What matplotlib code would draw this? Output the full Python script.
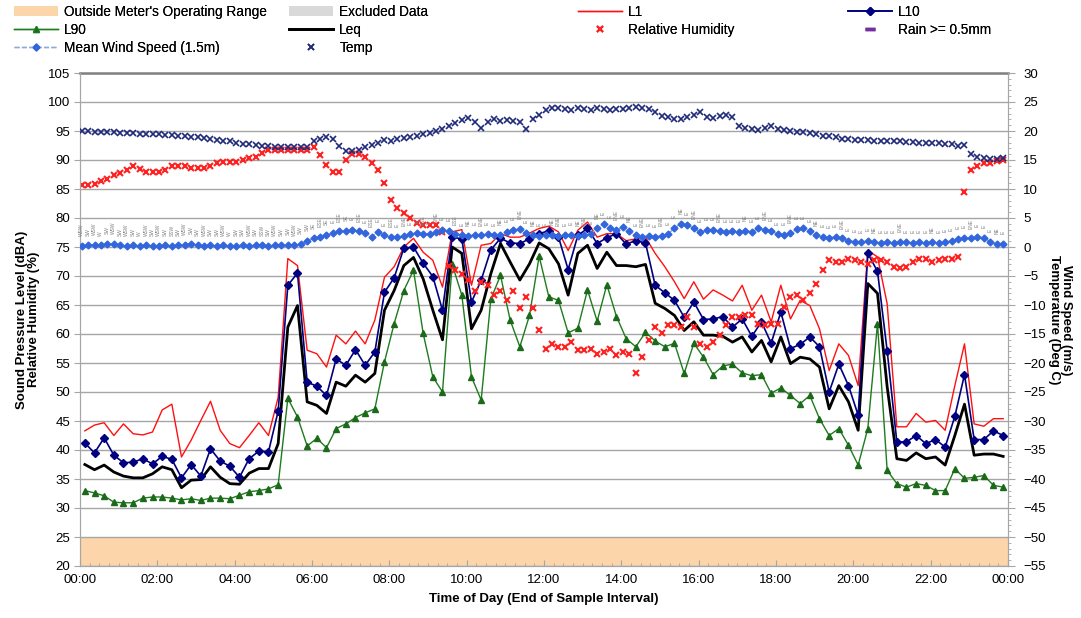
import numpy as np
import matplotlib
matplotlib.use("Agg")
import matplotlib.pyplot as plt
from matplotlib.lines import Line2D
from matplotlib.patches import Patch
from matplotlib.ticker import MultipleLocator, FixedLocator, FixedFormatter

plt.rcParams['font.family'] = ['Liberation Sans', 'DejaVu Sans']

# ---------------- data ----------------
# 15-minute noise statistics (dBA), 96 intervals
L1 = [43.3, 44.3, 44.7, 42.5, 44.5, 42.8, 42.6, 43.1, 46.9, 47.9, 38.8, 41.7, 45.1, 48.4, 43.4, 41.1,
      40.4, 42.5, 44.7, 42.5, 49.1, 73.0, 71.8, 57.2, 56.6, 54.3, 59.8, 58.3, 60.5, 58.3, 62.4, 69.8,
      71.6, 75.0, 76.5, 74.1, 72.7, 68.1, 77.6, 78.0, 68.4, 75.3, 75.6, 77.3, 76.7, 76.7, 77.4, 78.2,
      78.6, 77.6, 74.4, 77.9, 79.3, 76.7, 77.3, 77.3, 76.1, 76.4, 76.7, 73.9, 71.6, 69.0, 66.1, 69.0,
      66.0, 67.6, 66.7, 65.7, 68.4, 64.1, 66.7, 62.1, 68.4, 62.6, 65.8, 64.9, 60.9, 53.7, 58.3, 56.3,
      51.1, 74.4, 73.3, 65.2, 44.0, 44.0, 46.3, 44.8, 45.1, 43.4, 51.1, 58.3, 44.5, 44.1, 45.4, 45.4]
L10 = [41.2, 39.5, 42.1, 39.1, 37.8, 37.9, 38.5, 37.6, 38.9, 38.4, 35.2, 37.5, 35.5, 40.2, 38.1, 37.2,
       35.3, 38.5, 39.8, 39.7, 46.7, 68.4, 70.5, 51.7, 51.0, 49.4, 55.7, 54.6, 57.3, 54.6, 56.9, 67.2,
       69.7, 74.8, 75.0, 72.2, 69.9, 64.1, 76.7, 76.4, 65.5, 69.3, 74.5, 76.5, 75.7, 75.6, 76.4, 77.3,
       77.8, 76.7, 71.1, 77.0, 78.2, 75.6, 76.6, 77.3, 75.5, 76.1, 75.7, 68.4, 67.1, 65.8, 62.9, 65.5,
       62.5, 62.6, 63.0, 61.2, 62.6, 59.6, 62.1, 58.4, 63.8, 57.5, 58.2, 59.5, 57.8, 50.0, 54.8, 51.1,
       46.0, 73.9, 70.8, 57.1, 41.4, 41.4, 42.5, 41.1, 41.8, 40.5, 45.8, 53.0, 41.8, 41.8, 43.3, 42.5]
LEQ = [37.5, 36.6, 37.4, 36.2, 35.5, 35.2, 35.2, 35.9, 37.1, 36.6, 33.5, 34.8, 34.9, 37.1, 35.3, 34.2,
       34.1, 36.0, 36.8, 36.8, 41.1, 61.2, 64.9, 48.3, 47.7, 46.3, 51.7, 51.0, 52.9, 51.7, 53.2, 64.1,
       67.5, 71.8, 73.2, 69.5, 64.1, 59.0, 75.0, 73.9, 60.9, 64.1, 70.4, 75.6, 72.4, 69.3, 72.1, 75.7,
       74.7, 72.1, 66.7, 73.9, 75.3, 71.3, 74.1, 71.8, 71.8, 71.6, 72.0, 65.3, 64.4, 63.2, 60.6, 62.1,
       59.8, 59.8, 59.6, 58.6, 59.5, 56.9, 58.9, 55.2, 59.5, 54.9, 56.0, 55.7, 54.3, 47.1, 51.1, 48.3,
       43.4, 68.7, 67.0, 50.9, 38.5, 38.2, 39.5, 38.5, 38.8, 37.4, 42.5, 47.9, 39.1, 39.3, 39.3, 38.9]
L90 = [33.0, 32.6, 32.1, 31.0, 30.9, 30.9, 31.7, 31.9, 31.9, 31.7, 31.4, 31.6, 31.3, 31.7, 31.7, 31.6,
       32.2, 32.8, 33.0, 33.3, 34.0, 48.9, 45.7, 40.7, 42.0, 40.4, 43.7, 44.5, 45.6, 46.4, 47.1, 55.2,
       61.8, 67.5, 71.0, 60.1, 52.6, 50.0, 72.0, 66.7, 52.6, 48.6, 66.0, 70.1, 62.4, 57.8, 63.2, 73.4,
       66.4, 65.8, 60.2, 61.0, 67.6, 62.2, 68.5, 63.0, 59.2, 57.8, 60.3, 58.8, 57.8, 58.4, 53.2, 58.4,
       56.0, 53.0, 54.5, 54.8, 53.3, 52.8, 53.0, 49.8, 50.7, 49.4, 48.0, 49.4, 45.4, 42.5, 43.7, 40.8,
       37.4, 43.7, 61.8, 36.5, 34.2, 33.6, 34.2, 33.9, 33.0, 33.0, 36.8, 35.1, 35.3, 35.6, 33.9, 33.6]

# 10-minute weather data, 144 samples (one row per hour)
RH = [85.7, 85.7, 85.8, 86.3, 86.8, 87.4,
      87.8, 88.3, 88.9, 88.5, 88.0, 88.0,
      88.0, 88.3, 88.9, 89.0, 89.0, 88.7,
      88.6, 88.6, 89.0, 89.5, 89.7, 89.7,
      89.7, 90.0, 90.3, 90.6, 91.2, 91.7,
      91.7, 91.7, 91.7, 91.7, 91.7, 91.8,
      92.2, 90.9, 89.1, 87.9, 87.9, 90.0,
      91.1, 91.1, 90.6, 89.4, 88.3, 86.0,
      83.1, 81.8, 80.9, 80.0, 79.1, 78.8,
      78.8, 78.8, 77.6, 71.8, 71.0, 70.4,
      69.3, 67.5, 69.0, 68.4, 66.7, 67.5,
      65.8, 67.5, 64.4, 66.4, 64.4, 60.7,
      57.5, 58.3, 57.8, 57.8, 58.6, 57.2,
      57.2, 57.5, 56.6, 56.9, 57.5, 56.3,
      56.9, 56.6, 53.2, 56.1, 58.9, 61.2,
      60.1, 61.5, 61.5, 61.2, 62.9, 61.2,
      58.3, 57.8, 58.6, 59.8, 61.5, 62.9,
      62.9, 63.2, 63.2, 61.8, 61.5, 61.8,
      61.8, 64.7, 66.4, 66.7, 65.8, 67.0,
      68.7, 71.0, 72.7, 72.4, 72.4, 73.0,
      72.7, 72.4, 72.1, 72.7, 72.7, 72.4,
      71.6, 71.3, 71.6, 72.4, 73.0, 73.0,
      72.4, 72.7, 73.0, 73.0, 73.2, 84.5,
      88.2, 89.0, 89.4, 89.5, 89.8, 90.0]
TEMP = [20.0, 20.0, 19.9, 19.9, 19.8, 19.8,
        19.7, 19.6, 19.6, 19.5, 19.5, 19.4,
        19.4, 19.3, 19.3, 19.2, 19.1, 19.0,
        18.9, 18.8, 18.6, 18.5, 18.3, 18.2,
        18.0, 17.8, 17.7, 17.6, 17.5, 17.4,
        17.3, 17.3, 17.2, 17.2, 17.2, 17.3,
        18.3, 18.7, 18.9, 18.6, 17.4, 16.6,
        16.6, 16.8, 17.3, 17.6, 18.0, 18.4,
        18.3, 18.6, 18.8, 19.0, 19.2, 19.4,
        19.6, 20.0, 20.4, 20.8, 21.4, 21.9,
        22.3, 21.5, 20.6, 21.6, 22.0, 21.8,
        21.9, 21.8, 21.6, 20.3, 22.0, 22.8,
        23.6, 24.0, 23.9, 23.8, 23.7, 23.9,
        23.8, 23.7, 23.9, 23.8, 23.7, 23.8,
        23.8, 24.0, 24.2, 24.0, 23.8, 23.2,
        22.6, 22.4, 22.0, 22.1, 22.5, 22.8,
        23.2, 22.5, 22.3, 22.6, 22.7, 22.4,
        20.9, 20.5, 20.3, 20.2, 20.5, 20.8,
        20.4, 20.2, 20.0, 19.9, 19.8, 19.6,
        19.4, 19.2, 19.1, 18.9, 18.7, 18.6,
        18.5, 18.4, 18.4, 18.3, 18.3, 18.2,
        18.2, 18.2, 18.1, 18.1, 18.0, 18.0,
        18.0, 17.9, 17.8, 17.7, 17.5, 17.6,
        16.0, 15.5, 15.3, 15.2, 15.2, 15.3]
WIND = [0.2, 0.3, 0.4, 0.3, 0.5, 0.6,
        0.3, 0.2, 0.3, 0.2, 0.3, 0.2,
        0.2, 0.3, 0.2, 0.3, 0.4, 0.6,
        0.3, 0.2, 0.3, 0.2, 0.3, 0.2,
        0.2, 0.3, 0.2, 0.3, 0.3, 0.2,
        0.3, 0.3, 0.4, 0.3, 0.5, 1.1,
        1.5, 1.7, 2.1, 2.4, 2.7, 2.8,
        2.9, 2.7, 2.5, 1.7, 2.6, 2.0,
        1.8, 1.7, 1.9, 2.2, 2.4, 2.2,
        2.3, 2.6, 2.9, 2.8, 2.2, 2.0,
        1.9, 2.1, 2.0, 2.2, 2.0, 2.1,
        2.6, 3.0, 3.1, 2.4, 2.0, 1.9,
        2.0, 2.1, 1.9, 2.0, 2.1, 1.9,
        2.0, 2.3, 3.2, 3.9, 3.3, 2.9,
        3.5, 2.7, 2.0, 1.8, 1.9, 1.8,
        1.9, 2.2, 3.3, 4.0, 3.8, 3.2,
        2.6, 2.9, 3.0, 2.7, 2.6, 2.7,
        2.6, 2.8, 2.6, 3.2, 3.0, 2.8,
        2.2, 2.1, 2.4, 3.1, 3.2, 2.7,
        2.0, 1.8, 1.6, 1.8, 1.5, 1.1,
        0.9, 0.8, 1.1, 0.8, 0.7, 0.8,
        0.7, 0.9, 0.8, 0.7, 0.8, 0.7,
        0.8, 0.7, 0.9, 1.0, 1.4, 1.6,
        1.5, 1.7, 1.6, 0.9, 0.6, 0.6]
WIND_DIR = ("WSW SW WSW W SW WSW SW WSW SW W WSW SW WSW SW SSW SW WSW SW "
            "SW WSW SW SW WSW W SW SW WSW SW SSW SW WSW SW SW WSW SW SW "
            "SE ESE SE E ESE SE E ESE E ESE E E ESE E ENE E E ESE "
            "E ENE E E ESE E NE E ENE E E NE E E ENE E NE E "
            "E NE ENE E E NE ENE E NE E E ENE E NE E ENE E E "
            "ENE E E NE E ENE E E E ENE E E E NE E E ENE E "
            "E E ENE E E E NE E E E ENE E E E E NE E E "
            "E ENE E E E E NE E E E E E ENE E E E NE E").split()

OPER_LIMIT = (20, 25)
time_ticks = list(range(0, 25, 2))
time_labels = ["00:00", "02:00", "04:00", "06:00", "08:00", "10:00", "12:00",
               "14:00", "16:00", "18:00", "20:00", "22:00", "00:00"]

noise_t = np.arange(len(L1)) * 0.25 + 0.125
wx_t = np.arange(len(RH)) / 6.0 + 1.0 / 24.0

# ---------------- figure ----------------
fig = plt.figure(figsize=(10.81, 6.18), dpi=100)
ax = fig.add_axes([80 / 1081, 1 - 566 / 618, 928 / 1081, 493 / 618])
ax2 = ax.twinx()

GRID = '#A6A6A6'
ax.set_xlim(0, 24)
ax.set_ylim(20, 105)
ax2.set_ylim(-55, 30)

ax.axhspan(OPER_LIMIT[0], OPER_LIMIT[1], color='#FCD5AA', zorder=0.5, lw=0)
ax.yaxis.grid(True, color=GRID, lw=1.0, zorder=0)
ax.set_axisbelow(True)

ax.plot(noise_t, L1, color='#FF1010', lw=1.0, zorder=3)
ax.plot(noise_t, L90, color='#1E7B1E', lw=1.0, marker='^', ms=5,
        mfc='#1A6A1A', mec='#1A6A1A', zorder=3)
ax.plot(noise_t, LEQ, color='black', lw=2.0, zorder=3)
ax.plot(noise_t, L10, color='#000080', lw=1.2, marker='D', ms=4,
        mfc='#000080', mec='#000080', zorder=4)
ax.plot(wx_t, RH, ls='none', marker='x', ms=5, mew=1.5, color='#FF2020', zorder=5)

ax2.plot(wx_t, WIND, color='#8EA9DB', lw=1.0, ls='--', marker='D', ms=3.5,
         mfc='#3366DD', mec='#3366DD', zorder=3)
ax2.plot(wx_t, TEMP, ls='none', marker='x', ms=5, mew=1.2, color='#1F2A7A', zorder=4)
for t, w, d in zip(wx_t, WIND, WIND_DIR):
    ax2.annotate(d, (t, w), xytext=(0, 7), textcoords='offset points',
                 rotation=90, fontsize=3.5, color='#808080', ha='center', va='bottom')

# spines
for s in ['left', 'bottom', 'right']:
    ax.spines[s].set_color(GRID)
    ax2.spines[s].set_color(GRID)
ax.spines['top'].set_color('#808080')
ax.spines['top'].set_linewidth(1.8)
ax2.spines['top'].set_visible(False)

# ticks
ax.xaxis.set_major_locator(FixedLocator(time_ticks))
ax.xaxis.set_major_formatter(FixedFormatter(time_labels))
ax.xaxis.set_minor_locator(MultipleLocator(0.25))
ax.tick_params(axis='x', which='major', labelsize=9.5, length=4, color=GRID, direction='in', pad=6)
ax.tick_params(axis='x', which='minor', length=2, color=GRID, direction='in')
ax.yaxis.set_major_locator(MultipleLocator(5))
ax.tick_params(axis='y', labelsize=9.5, length=4, color=GRID, direction='out', pad=3)
ax2.yaxis.set_major_locator(MultipleLocator(5))
ax2.yaxis.set_minor_locator(MultipleLocator(1))
ax2.tick_params(axis='y', which='major', labelsize=9.5, length=5, color=GRID, pad=6)
ax2.tick_params(axis='y', which='minor', length=2.5, color=GRID)

ax.set_xlabel("Time of Day (End of Sample Interval)", fontsize=9.5, fontweight='bold', labelpad=5)
ax.set_ylabel("Sound Pressure Level (dBA)\nRelative Humidity (%)", fontsize=9.5,
              fontweight='bold', labelpad=6, linespacing=1.0)
fig.text(1060 / 1081, 1 - 320 / 618, "Wind Speed (m/s)\nTemperature (Deg C)", fontsize=9.5,
         fontweight='bold', rotation=270, ha='center', va='center', linespacing=1.0)

# legends
h_out = Patch(facecolor='#FCD5AA', edgecolor='none')
h_exc = Patch(facecolor='#D9D9D9', edgecolor='none')
h_l1 = Line2D([], [], color='#FF1010', lw=1.0)
h_l10 = Line2D([], [], color='#000080', lw=1.2, marker='D', ms=4)
h_l90 = Line2D([], [], color='#1E7B1E', lw=1.0, marker='^', ms=5, mfc='#1A6A1A')
h_leq = Line2D([], [], color='black', lw=2.0)
h_rh = Line2D([], [], ls='none', marker='x', ms=5, mew=1.5, color='#FF2020')
h_rain = Line2D([], [], ls='none', marker='_', ms=7, mew=2.5, color='#7030A0')
h_wind = Line2D([], [], color='#8EA9DB', lw=1.0, ls='--', marker='D', ms=3.5,
                mfc='#3366DD', mec='#3366DD')
h_temp = Line2D([], [], ls='none', marker='x', ms=5, mew=1.2, color='#1F2A7A')

cols = [
    ([h_out, h_l90, h_wind], ["Outside Meter's Operating Range", "L90", "Mean Wind Speed (1.5m)"], 14),
    ([h_exc, h_leq, h_temp], ["Excluded Data", "Leq", "Temp"], 289),
    ([h_l1, h_rh], ["L1", "Relative Humidity"], 578),
    ([h_l10, h_rain], ["L10", "Rain >= 0.5mm"], 848),
]
for hs, ls_, xpix in cols:
    leg = fig.legend(hs, ls_, loc='upper left', bbox_to_anchor=(xpix / 1081, 1 - 5 / 618),
                     frameon=False, fontsize=9.8, handlelength=3.2, handletextpad=0.5,
                     labelspacing=0.3, borderpad=0.0, borderaxespad=0.0)
    fig.add_artist(leg)

fig.savefig("out.png", dpi=100)
